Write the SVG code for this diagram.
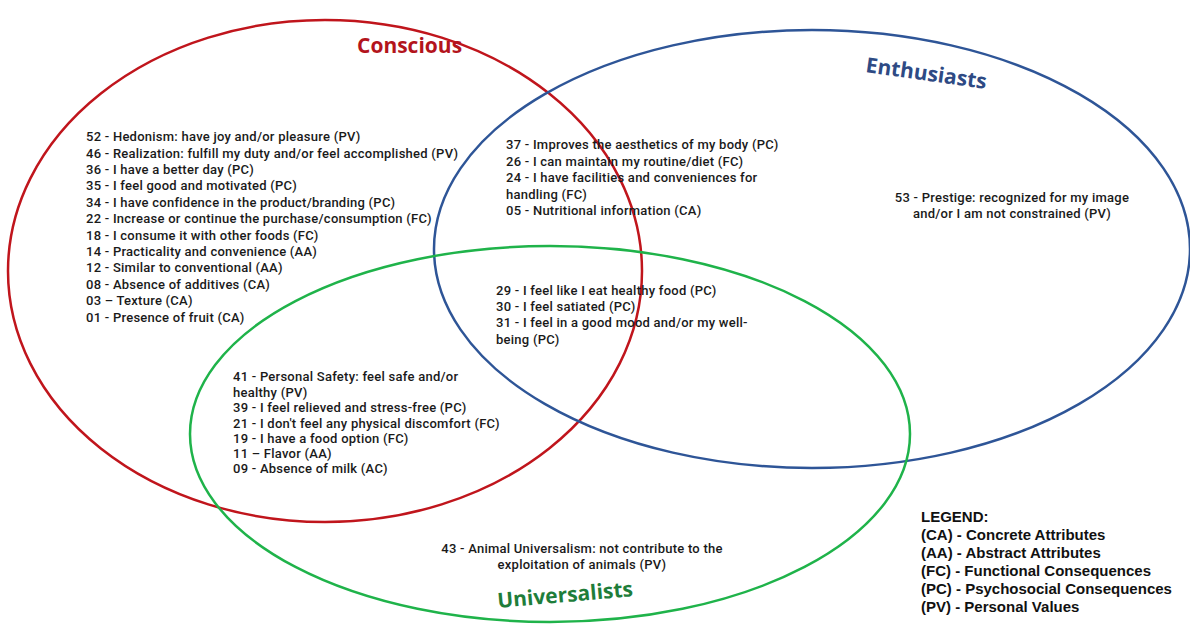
<svg xmlns="http://www.w3.org/2000/svg" width="1190" height="626" viewBox="0 0 1190 626">
  <style>
    .set { fill: none; stroke-width: 2.5; }
    .item { font-family: Roboto, "Liberation Sans", sans-serif; font-size: 13px; letter-spacing: 0.25px; font-weight: 500; fill: #1a1a1a; }
    .title { font-family: "Open Sans", "Liberation Sans", sans-serif; font-size: 21px; font-weight: 700; }
    .legend { font-family: "Liberation Sans", Arial, sans-serif; font-size: 15px; font-weight: 700; fill: #111; }
  </style>
  <rect width="1190" height="626" fill="#ffffff"/>

  <!-- set outlines -->
  <g id="connectors">
    <ellipse id="conscious-set" class="set" cx="325" cy="271" rx="317" ry="251" stroke="#c0151c"/>
    <ellipse id="enthusiasts-set" class="set" cx="812" cy="249" rx="378" ry="219" stroke="#2e5597"/>
    <ellipse id="universalists-set" class="set" cx="550" cy="434" rx="360" ry="188" stroke="#1fb34a"/>
  </g>

  <!-- set titles -->
  <g id="title-conscious"><text class="title" x="357" y="53" fill="#b3141c">Conscious</text></g>
  <g id="title-enthusiasts"><text class="title" x="865" y="72" fill="#2e4a84" transform="rotate(8 865 72)">Enthusiasts</text></g>
  <g id="title-universalists"><text class="title" x="498" y="608" fill="#1e7d3a" transform="rotate(-5 498 608)">Universalists</text></g>

  <!-- Conscious only -->
  <g id="conscious-only" class="item">
    <text x="86" y="141">52 - Hedonism: have joy and/or pleasure (PV)</text>
    <text x="86" y="158">46 - Realization: fulfill my duty and/or feel accomplished (PV)</text>
    <text x="86" y="174">36 - I have a better day (PC)</text>
    <text x="86" y="190">35 - I feel good and motivated (PC)</text>
    <text x="86" y="207">34 - I have confidence in the product/branding (PC)</text>
    <text x="86" y="223">22 - Increase or continue the purchase/consumption (FC)</text>
    <text x="86" y="240">18 - I consume it with other foods (FC)</text>
    <text x="86" y="256">14 - Practicality and convenience (AA)</text>
    <text x="86" y="272">12 - Similar to conventional (AA)</text>
    <text x="86" y="289">08 - Absence of additives (CA)</text>
    <text x="86" y="305">03 – Texture (CA)</text>
    <text x="86" y="322">01 - Presence of fruit (CA)</text>
  </g>

  <!-- Conscious and Enthusiasts -->
  <g id="conscious-enthusiasts" class="item">
    <text x="506" y="149">37 - Improves the aesthetics of my body (PC)</text>
    <text x="506" y="166">26 - I can maintain my routine/diet (FC)</text>
    <text x="506" y="182">24 - I have facilities and conveniences for</text>
    <text x="506" y="199">handling (FC)</text>
    <text x="506" y="215">05 - Nutritional information (CA)</text>
  </g>

  <!-- Enthusiasts only -->
  <g id="enthusiasts-only" class="item" text-anchor="middle">
    <text x="1012" y="202">53 - Prestige: recognized for my image</text>
    <text x="1012" y="218">and/or I am not constrained (PV)</text>
  </g>

  <!-- all three sets -->
  <g id="all-sets" class="item">
    <text x="496" y="295">29 - I feel like I eat healthy food (PC)</text>
    <text x="496" y="311">30 - I feel satiated (PC)</text>
    <text x="496" y="327">31 - I feel in a good mood and/or my well-</text>
    <text x="496" y="344">being (PC)</text>
  </g>

  <!-- Conscious and Universalists -->
  <g id="conscious-universalists" class="item">
    <text x="233" y="381">41 - Personal Safety: feel safe and/or</text>
    <text x="233" y="397">healthy (PV)</text>
    <text x="233" y="412">39 - I feel relieved and stress-free (PC)</text>
    <text x="233" y="428">21 - I don't feel any physical discomfort (FC)</text>
    <text x="233" y="443">19 - I have a food option (FC)</text>
    <text x="233" y="458">11 – Flavor (AA)</text>
    <text x="233" y="473">09 - Absence of milk (AC)</text>
  </g>

  <!-- Universalists only -->
  <g id="universalists-only" class="item" text-anchor="middle">
    <text x="582" y="553">43 - Animal Universalism: not contribute to the</text>
    <text x="582" y="569">exploitation of animals (PV)</text>
  </g>

  <!-- legend -->
  <g id="legend" class="legend">
    <text x="921" y="522">LEGEND:</text>
    <text x="921" y="540">(CA) - Concrete Attributes</text>
    <text x="921" y="558">(AA) - Abstract Attributes</text>
    <text x="921" y="576">(FC) - Functional Consequences</text>
    <text x="921" y="594">(PC) - Psychosocial Consequences</text>
    <text x="921" y="612">(PV) - Personal Values</text>
  </g>
</svg>
